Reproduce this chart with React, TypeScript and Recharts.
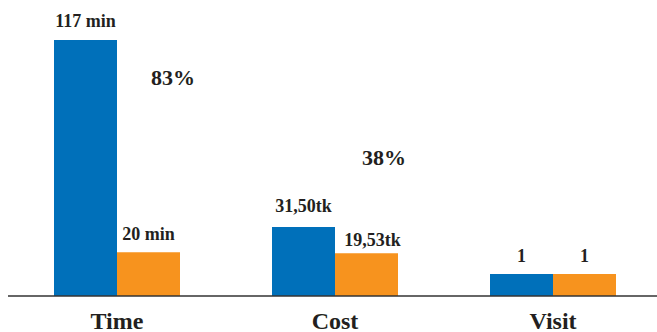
import React from 'react';
import { BarChart, Bar, XAxis, YAxis, LabelList, ReferenceDot } from 'recharts';

// Before / after comparison per category
const categories = ['Time', 'Cost', 'Visit'];
const beforeValues = [117, 31.5, 1];
const afterValues = [20, 19.53, 1];
const beforeLabels = ['117 min', '31,50tk', '1'];
const afterLabels = ['20 min', '19,53tk', '1'];
const savingCategories = ['Time', 'Cost'];
const savingLabels = ['83%', '38%'];

const data = categories.map((name, i) => ({
  name,
  before: beforeValues[i],
  after: afterValues[i],
  beforeLabel: beforeLabels[i],
  afterLabel: afterLabels[i],
}));

const FONT = '"Liberation Serif", "Times New Roman", serif';
const INK = '#231F20';
const BLUE = '#0070BA';
const ORANGE = '#F7931E';

// per-label nudges (gap above bar, horizontal shift)
const beforeGap = [13, 15, 12];
const afterGap = [12, 7, 12];
const afterShift = [0, 6, 0];

const makeValueLabel = (gaps: number[], shifts: number[] | null) => (props: any) => {
  const { x, y, width, value, index } = props;
  const dx = shifts ? shifts[index] : 0;
  return (
    <text
      x={x + width / 2 + dx}
      y={y - gaps[index]}
      textAnchor="middle"
      fontFamily={FONT}
      fontWeight="bold"
      fontSize={18}
      fill={INK}
    >
      {value}
    </text>
  );
};

// annotation anchors for the saving percentages (y in value units, x shift in px)
const savingAnchorY = [96.4, 59.9];
const savingShiftX = [56, 49];

export default function App() {
  return (
    <div style={{ position: 'absolute', left: 0, top: 0, width: 657, height: 332, background: '#fff' }}>
      <BarChart
        width={657}
        height={332}
        data={data}
        margin={{ top: 40, right: -5, bottom: 0, left: 8 }}
        barSize={63}
        barGap={0}
      >
        <XAxis
          dataKey="name"
          height={36}
          axisLine={{ stroke: '#333', strokeWidth: 1.5 }}
          tickLine={false}
          tickSize={0}
          tickMargin={16}
          tick={{ fontFamily: FONT, fontWeight: 'bold', fontSize: 24, fill: INK }}
          interval={0}
        />
        <YAxis hide domain={[0, 117]} />
        <Bar dataKey="before" fill={BLUE} isAnimationActive={false} minPointSize={22}>
          <LabelList dataKey="beforeLabel" content={makeValueLabel(beforeGap, null)} />
        </Bar>
        <Bar dataKey="after" fill={ORANGE} isAnimationActive={false} minPointSize={22}>
          <LabelList dataKey="afterLabel" content={makeValueLabel(afterGap, afterShift)} />
        </Bar>
        {savingCategories.map((cat, i) => (
          <ReferenceDot
            key={cat}
            x={cat}
            y={savingAnchorY[i]}
            r={0}
            ifOverflow="visible"
            shape={(p: any) => (
              <text
                x={p.cx + savingShiftX[i]}
                y={p.cy}
                textAnchor="middle"
                fontFamily={FONT}
                fontWeight="bold"
                fontSize={22}
                fill={INK}
              >
                {savingLabels[i]}
              </text>
            )}
          />
        ))}
      </BarChart>
    </div>
  );
}
